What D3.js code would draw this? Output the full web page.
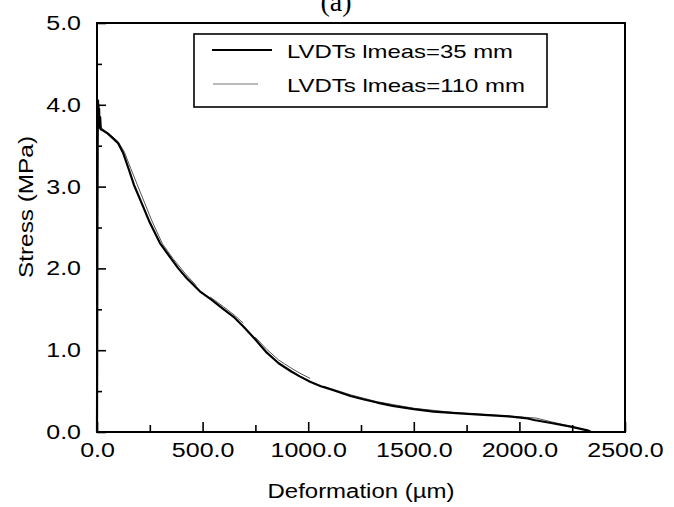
<!DOCTYPE html>
<html>
<head>
<meta charset="utf-8">
<script src="https://cdn.jsdelivr.net/npm/d3@7"></script>
<style>
html,body{margin:0;padding:0;background:#fff;}
svg{display:block;}
text{font-family:"Liberation Sans",Arial,sans-serif;fill:#000;}
</style>
</head>
<body>
<svg id="chart" width="674" height="507"></svg>
<script>
// ---- data ----
const xTicks = [0, 500, 1000, 1500, 2000, 2500];
const xTickLabels = ["0.0", "500.0", "1000.0", "1500.0", "2000.0", "2500.0"];
const yTicks = [0, 1, 2, 3, 4, 5];
const yTickLabels = ["0.0", "1.0", "2.0", "3.0", "4.0", "5.0"];
const seriesNames = ["LVDTs lmeas=35 mm", "LVDTs lmeas=110 mm"];

// LVDTs lmeas=35 mm (thick black)
const thickX = [0,1,2,3,4,5,6,7,8,10,12,15,18,25,50,76,100,124,152,175,203,250,298,345,385,425,487,540,600,650,693,750,804,860,920,960,1009,1060,1120,1200,1260,1326,1400,1500,1594,1700,1832,1950,2006,2040,2069,2150,2243,2322,2340];
const thickY = [0,1.2,2.6,3.5,3.9,4.05,3.8,4.0,3.75,3.95,3.72,3.85,3.7,3.69,3.65,3.59,3.53,3.41,3.20,3.02,2.85,2.56,2.31,2.14,2.00,1.88,1.72,1.62,1.50,1.40,1.29,1.13,0.97,0.84,0.74,0.68,0.615,0.56,0.51,0.44,0.40,0.36,0.32,0.28,0.25,0.23,0.21,0.19,0.175,0.165,0.147,0.11,0.065,0.02,0.0];

// LVDTs lmeas=110 mm (thin grey, with gaps = null)
const thinX = [0,2,4,6,8,12,20,50,100,130,160,210,260,310,360,420,470,500,536,600,650,693,720,749,804,860,920,960,1009,1040,1073,1120,1200,1326,1500,1700,1832,2000,2080,2150,2243,2300];
const thinY = [0,2.0,3.6,3.95,3.8,3.78,3.72,3.66,3.55,3.42,3.22,2.90,2.58,2.30,2.12,1.93,1.79,null,1.65,1.53,1.43,1.33,null,1.16,1.01,0.88,0.78,0.72,0.655,null,0.56,0.52,0.455,0.37,0.29,0.235,0.215,0.185,0.17,0.125,0.07,0.03];

// ---- layout ----
const svg = d3.select("#chart");
const L = 97, R = 625, T = 23, B = 432;
const x = d3.scaleLinear().domain([0, 2500]).range([L, R]);
const y = d3.scaleLinear().domain([0, 5]).range([B, T]);
const STRETCH = 1.25;
function widen(sel, factor) {
  sel.each(function () {
    const w = this.getComputedTextLength();
    d3.select(this).attr("textLength", w * (factor || STRETCH)).attr("lengthAdjust", "spacingAndGlyphs");
  });
}

// title (cut off at top, as in the reference)
svg.append("text").attr("x", 336).attr("y", 11).attr("text-anchor", "middle")
  .style("font-family", "'Liberation Serif','Times New Roman',serif").style("font-size", "28px")
  .text("(a)");

// frame
svg.append("rect").attr("x", L).attr("y", T).attr("width", R - L).attr("height", B - T)
  .attr("fill", "none").attr("stroke", "#000").attr("stroke-width", 2);

// x axis ticks (inward)
const xAxis = d3.axisBottom(x).tickValues(xTicks).tickSize(-10).tickFormat((d, i) => xTickLabels[i]).tickPadding(11);
const gx = svg.append("g").attr("transform", `translate(0,${B})`).call(xAxis);
const xMinor = d3.axisBottom(x).tickValues([250, 750, 1250, 1750, 2250]).tickSize(-7).tickFormat("");
const gxm = svg.append("g").attr("transform", `translate(0,${B})`).call(xMinor);

// y axis ticks (inward)
const yAxis = d3.axisLeft(y).tickValues(yTicks).tickSize(-9).tickFormat((d, i) => yTickLabels[i]).tickPadding(16);
const gy = svg.append("g").attr("transform", `translate(${L},0)`).call(yAxis);
const yMinor = d3.axisLeft(y).tickValues([0.5, 1.5, 2.5, 3.5, 4.5]).tickSize(-5).tickFormat("");
const gym = svg.append("g").attr("transform", `translate(${L},0)`).call(yMinor);

[gx, gxm, gy, gym].forEach(g => {
  g.select(".domain").remove();
  g.selectAll(".tick line").attr("stroke", "#000").attr("stroke-width", 1.6);
  g.selectAll(".tick text").style("font-size", "20px").style("font-family", "'Liberation Sans',Arial,sans-serif").attr("fill", "#000");
});
gx.selectAll(".tick text").attr("dy", "0.71em");
widen(gx.selectAll(".tick text"));
widen(gy.selectAll(".tick text"));

// axis titles
svg.append("text").attr("x", (L + R) / 2).attr("y", 498).attr("text-anchor", "middle")
  .style("font-size", "20px").attr("textLength", 187).attr("lengthAdjust", "spacingAndGlyphs")
  .text("Deformation (µm)");
svg.append("text").attr("transform", "translate(33,207) rotate(-90)").attr("text-anchor", "middle")
  .style("font-size", "20px").attr("textLength", 142).attr("lengthAdjust", "spacingAndGlyphs")
  .text("Stress (MPa)");

// curves
const thick = thickX.map((d, i) => [d, thickY[i]]);
const thin = thinX.map((d, i) => [d, thinY[i]]);
const line = d3.line().defined(d => d[1] !== null).x(d => x(d[0])).y(d => y(d[1]));

svg.append("path").datum(thin).attr("d", line).attr("fill", "none")
  .attr("stroke", "#555").attr("stroke-width", 1);
svg.append("path").datum(thick).attr("d", line).attr("fill", "none")
  .attr("stroke", "#000").attr("stroke-width", 2.2).attr("stroke-linejoin", "round");

// legend
const lg = svg.append("g");
lg.append("rect").attr("x", 194).attr("y", 34).attr("width", 353).attr("height", 73)
  .attr("fill", "#fff").attr("stroke", "#000").attr("stroke-width", 1.6);
lg.append("line").attr("x1", 212).attr("x2", 272).attr("y1", 50).attr("y2", 50)
  .attr("stroke", "#000").attr("stroke-width", 2);
lg.append("line").attr("x1", 213).attr("x2", 258).attr("y1", 84).attr("y2", 84)
  .attr("stroke", "#777").attr("stroke-width", 1.2);
lg.append("text").attr("x", 287).attr("y", 51).attr("dy", "0.35em").style("font-size", "19px")
  .attr("textLength", 226).attr("lengthAdjust", "spacingAndGlyphs").text(seriesNames[0]);
lg.append("text").attr("x", 287).attr("y", 85).attr("dy", "0.35em").style("font-size", "19px")
  .attr("textLength", 238).attr("lengthAdjust", "spacingAndGlyphs").text(seriesNames[1]);
</script>
</body>
</html>
